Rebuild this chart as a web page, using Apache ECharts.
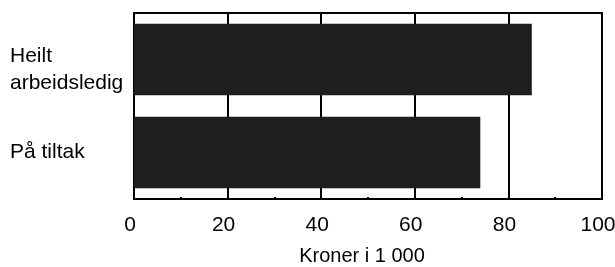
<!DOCTYPE html>
<html>
<head>
<meta charset="utf-8">
<script src="https://cdn.jsdelivr.net/npm/echarts@6/dist/echarts.min.js"></script>
<style>html,body{margin:0;padding:0;background:#fff}#c{width:615px;height:267px}</style>
</head>
<body>
<div id="c"></div>
<script>
const categories = ['Heilt arbeidsledig', 'På tiltak'];
const values = [85, 74];
const xTicks = [0, 20, 40, 60, 80, 100];
const axisTitle = 'Kroner i 1 000';

const FONT = '"Liberation Sans", Arial, Helvetica, sans-serif';
const chart = echarts.init(document.getElementById('c'), null, {renderer: 'canvas'});
chart.setOption({
  animation: false,
  backgroundColor: '#fff',
  grid: {left: 134, right: 13, top: 13, bottom: 68, outerBoundsMode: 'none', containLabel: false,
         show: true, borderColor: '#000', borderWidth: 2, backgroundColor: 'transparent'},
  xAxis: {
    type: 'value', min: xTicks[0], max: xTicks[xTicks.length - 1], interval: 20,
    name: axisTitle, nameLocation: 'middle', nameGap: 47,
    nameTextStyle: {fontFamily: FONT, fontSize: 20, color: '#000', padding: [0, 12, 0, 0]},
    axisLine: {show: true, lineStyle: {color: '#000', width: 2}},
    axisTick: {show: true, inside: true, length: 3, lineStyle: {color: '#000', width: 2}},
    minorTick: {show: true, splitNumber: 2, length: 2, lineStyle: {color: '#000', width: 2}},
    splitLine: {show: true, lineStyle: {color: '#000', width: 2}},
    axisLabel: {fontFamily: FONT, fontSize: 21, color: '#000', margin: 16, padding: [0, 8, 0, 0]}
  },
  yAxis: {
    type: 'category', data: categories, inverse: true,
    axisLine: {show: true, lineStyle: {color: '#000', width: 2}},
    axisTick: {show: false},
    axisLabel: {
      fontFamily: FONT, fontSize: 21, color: '#000', align: 'left', margin: 124,
      formatter: function (v) {
        if (v === categories[0]) return '{s| }\n{b|Heilt}\n{b|arbeidsledig}';
        return v;
      },
      rich: {
        s: {fontFamily: FONT, fontSize: 10, color: '#fff', lineHeight: 20},
        b: {fontFamily: FONT, fontSize: 21, color: '#000', lineHeight: 27}
      }
    }
  },
  series: [{
    type: 'bar', data: values, barCategoryGap: '23%',
    itemStyle: {color: '#1e1e1e'}
  }]
});
</script>
</body>
</html>
